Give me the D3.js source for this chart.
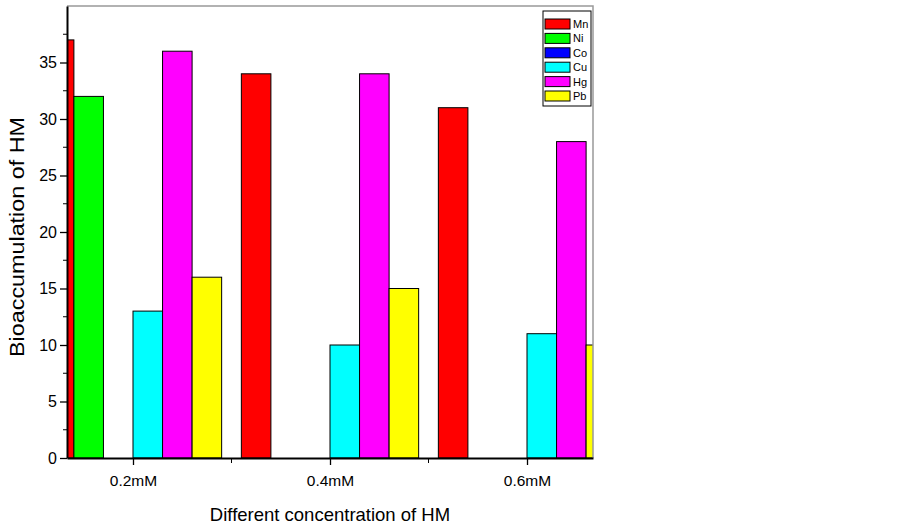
<!DOCTYPE html>
<html>
<head>
<meta charset="utf-8">
<script src="https://cdn.jsdelivr.net/npm/d3@7"></script>
<style>
  body { margin: 0; background: #fff; }
  svg text { font-family: Arial, "Liberation Sans", sans-serif; fill: #000; }
</style>
</head>
<body>
<div id="chart"></div>
<script>
// categories along the x axis
const groups = ['0.2mM', '0.4mM', '0.6mM'];
// metals (series) and their colours
const metals = ['Mn', 'Ni', 'Co', 'Cu', 'Hg', 'Pb'];
const metalColors = ['#ff0000', '#00ff00', '#0000ff', '#00ffff', '#ff00ff', '#ffff00'];
// values per metal, one per group
const mnValues = [37, 34, 31];
const niValues = [32, 0, 0];
const coValues = [0, 0, 0];
const cuValues = [13, 10, 11];
const hgValues = [36, 34, 28];
const pbValues = [16, 15, 10];
const yTicks = [0, 5, 10, 15, 20, 25, 30, 35];

const seriesValues = [mnValues, niValues, coValues, cuValues, hgValues, pbValues];

const width = 899, height = 527;
const margin = { top: 6, right: 306, bottom: 69, left: 67 };

const svg = d3.select('#chart').append('svg')
  .attr('width', width)
  .attr('height', height);

// x is a numeric axis, group i sits at i+1
const x = d3.scaleLinear().domain([0.665, 3.335]).range([margin.left, width - margin.right]);
const y = d3.scaleLinear().domain([0, 40]).range([height - margin.bottom, margin.top]);
const barW = 0.15; // in x units

svg.append('clipPath').attr('id', 'plotClip')
  .append('rect')
  .attr('x', x.range()[0]).attr('y', y.range()[1])
  .attr('width', x.range()[1] - x.range()[0])
  .attr('height', y.range()[0] - y.range()[1]);

// flatten the bar table
const bars = [];
seriesValues.forEach((vals, s) => {
  vals.forEach((v, g) => {
    if (v > 0) bars.push({ metal: metals[s], s, g, v });
  });
});

svg.append('g').attr('clip-path', 'url(#plotClip)')
  .selectAll('rect')
  .data(bars)
  .enter()
  .append('rect')
  .attr('x', d => x(d.g + 1 + (d.s - 3) * barW))
  .attr('y', d => y(d.v))
  .attr('width', d => x(barW) - x(0))
  .attr('height', d => y(0) - y(d.v))
  .attr('fill', d => metalColors[d.s])
  .attr('stroke', '#000')
  .attr('stroke-width', 1);

// grey frame on top and right
svg.append('path')
  .attr('d', `M${x.range()[0]},${y.range()[1]}H${x.range()[1]}V${y.range()[0]}`)
  .attr('fill', 'none')
  .attr('stroke', '#999')
  .attr('stroke-width', 1.5);

// y axis
const yAxis = svg.append('g').attr('transform', `translate(${x.range()[0]},0)`);
yAxis.call(d3.axisLeft(y).tickValues(yTicks).tickSize(7).tickSizeOuter(0).tickPadding(3));
yAxis.append('g').selectAll('line')
  .data(d3.range(2.5, 40, 5))
  .enter().append('line')
  .attr('x1', -4).attr('x2', 0)
  .attr('y1', d => y(d)).attr('y2', d => y(d))
  .attr('stroke', '#000');
yAxis.select('.domain').attr('stroke-width', 2);
yAxis.selectAll('.tick line').attr('stroke-width', 1.3);
yAxis.selectAll('text').style('font-size', '16px');

// x axis
const xAxis = svg.append('g').attr('transform', `translate(0,${y.range()[0]})`);
xAxis.call(d3.axisBottom(x).tickValues([1, 2, 3]).tickFormat((d, i) => groups[i])
  .tickSize(7).tickSizeOuter(0).tickPadding(10));
xAxis.append('g').selectAll('line')
  .data([1.5, 2.5])
  .enter().append('line')
  .attr('x1', d => x(d)).attr('x2', d => x(d))
  .attr('y1', 0).attr('y2', 5)
  .attr('stroke', '#000');
xAxis.select('.domain').attr('stroke-width', 2);
xAxis.selectAll('.tick line').attr('stroke-width', 1.3);
xAxis.selectAll('text').style('font-size', '15.5px');

// axis titles
svg.append('text')
  .attr('x', (x.range()[0] + x.range()[1]) / 2)
  .attr('y', 521)
  .attr('text-anchor', 'middle')
  .style('font-size', '18.5px')
  .text('Different concentration of HM');

svg.append('text')
  .attr('transform', 'translate(24,237) rotate(-90)')
  .attr('text-anchor', 'middle')
  .attr('textLength', 240)
  .attr('lengthAdjust', 'spacingAndGlyphs')
  .style('font-size', '21px')
  .text('Bioaccumulation of HM');

// legend
const legend = svg.append('g');
legend.append('rect')
  .attr('x', 543).attr('y', 11)
  .attr('width', 48).attr('height', 95)
  .attr('fill', '#fff')
  .attr('stroke', '#000')
  .attr('stroke-width', 1);
const rows = legend.selectAll('g.row')
  .data(metals)
  .enter().append('g')
  .attr('class', 'row')
  .attr('transform', (d, i) => `translate(545,${24 + i * 14.4})`);
rows.append('rect')
  .attr('x', 0).attr('y', -5)
  .attr('width', 25).attr('height', 10)
  .attr('fill', (d, i) => metalColors[i])
  .attr('stroke', '#000');
rows.append('text')
  .attr('x', 28).attr('y', 4)
  .style('font-size', '11px')
  .text(d => d);
</script>
</body>
</html>
